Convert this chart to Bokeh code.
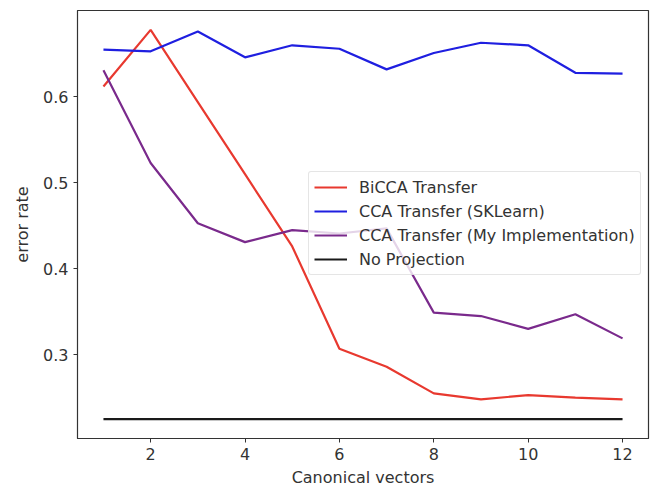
from bokeh.plotting import figure
from bokeh.models import Range1d, Legend, LegendItem, FixedTicker
from bokeh.embed import file_html
from bokeh.resources import INLINE

x = [1, 2, 3, 4, 5, 6, 7, 8, 9, 10, 11, 12]
bicca = [0.612, 0.678, 0.594, 0.51, 0.426, 0.307, 0.286, 0.255, 0.248, 0.253, 0.250, 0.248]
cca_sk = [0.655, 0.653, 0.676, 0.646, 0.660, 0.656, 0.632, 0.651, 0.663, 0.660, 0.628, 0.627]
cca_my = [0.631, 0.523, 0.453, 0.431, 0.445, 0.441, 0.447, 0.349, 0.345, 0.330, 0.347, 0.319]
no_proj = [0.225] * 12

names = ["BiCCA Transfer", "CCA Transfer (SKLearn)", "CCA Transfer (My Implementation)", "No Projection"]
colors = ["#e8392f", "#1f1fe0", "#7a2a8c", "#1a1a1a"]

p = figure(width=653, height=489, output_backend="svg", toolbar_location=None,
           x_range=Range1d(0.45, 12.55), y_range=Range1d(0.2025, 0.7005),
           min_border_left=77, min_border_right=5, min_border_top=10, min_border_bottom=51)
p.xgrid.visible = False
p.ygrid.visible = False
p.outline_line_color = "#333333"
p.outline_line_width = 1.2

items = []
for ys, name, c in zip([bicca, cca_sk, cca_my, no_proj], names, colors):
    r = p.line(x, ys, line_color=c, line_width=2.2)
    items.append(LegendItem(label=name, renderers=[r]))

for ax in (p.xaxis[0], p.yaxis[0]):
    ax.axis_line_color = "#333333"
    ax.major_tick_line_color = "#333333"
    ax.major_tick_out = 4
    ax.major_tick_in = 0
    ax.minor_tick_line_color = None
    ax.major_label_text_font = "DejaVu Sans"
    ax.major_label_text_font_size = "16px"
    ax.major_label_text_color = "#333333"
    ax.axis_label_text_font = "DejaVu Sans"
    ax.axis_label_text_font_size = "16px"
    ax.axis_label_text_font_style = "normal"
    ax.axis_label_text_color = "#333333"

p.xaxis.ticker = FixedTicker(ticks=[2, 4, 6, 8, 10, 12])
p.yaxis.ticker = FixedTicker(ticks=[0.3, 0.4, 0.5, 0.6])
p.xaxis.axis_label = "Canonical vectors"
p.yaxis.axis_label = "error rate"
p.xaxis.axis_label_standoff = 5
p.yaxis.axis_label_standoff = 8

legend = Legend(items=items, location=(231, 163))
legend.label_text_font = "DejaVu Sans"
legend.label_text_font_size = "16px"
legend.label_text_color = "#333333"
legend.glyph_width = 33
legend.glyph_height = 20
legend.label_height = 20
legend.spacing = 4
legend.padding = 5
legend.margin = 0
legend.label_standoff = 12
legend.border_line_color = "#cccccc"
legend.border_radius = 3
legend.background_fill_alpha = 0.8
p.add_layout(legend, "center")

open("out.html", "w").write(file_html(p, INLINE))
